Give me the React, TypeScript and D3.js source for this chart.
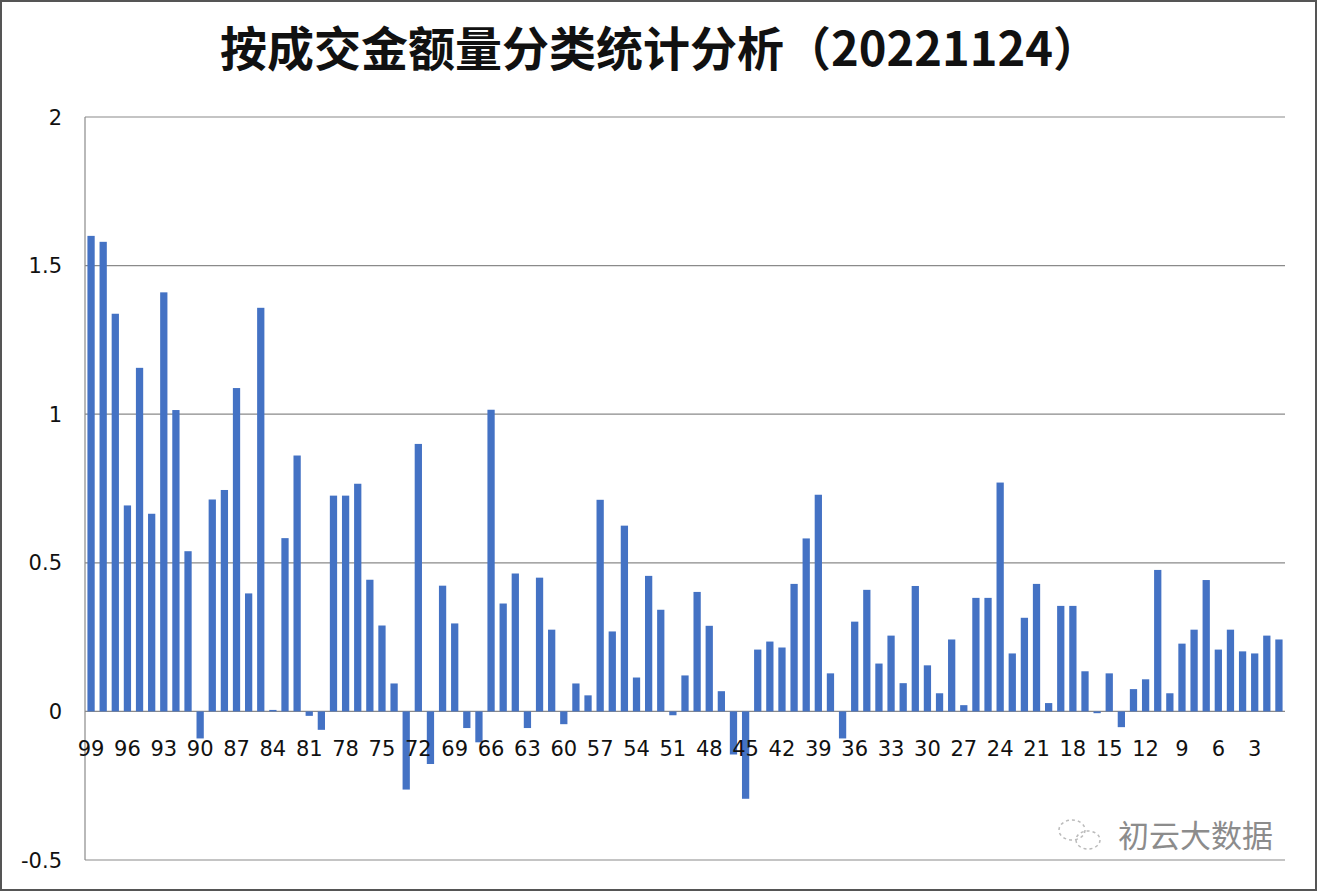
import React from "react";
import * as d3 from "d3";

const TITLE = "按成交金额量分类统计分析（20221124）";
const WATERMARK = "初云大数据";

// categories 99 → 1
const categories: number[] = d3.range(99, 0, -1);

const values: number[] = [
  1.60, 1.58, 1.338, 0.693, 1.156, 0.665, 1.41, 1.014, 0.539, -0.091, // 99-90
  0.713, 0.745, 1.088, 0.397, 1.358, 0.005, 0.583, 0.861, -0.015, -0.062, // 89-80
  0.726, 0.726, 0.766, 0.443, 0.289, 0.094, -0.263, 0.900, -0.177, 0.423, // 79-70
  0.296, -0.056, -0.104, 1.015, 0.363, 0.464, -0.056, 0.450, 0.275, -0.043, // 69-60
  0.094, 0.054, 0.712, 0.269, 0.625, 0.114, 0.456, 0.342, -0.013, 0.121, // 59-50
  0.402, 0.288, 0.068, -0.145, -0.294, 0.208, 0.235, 0.215, 0.429, 0.582, // 49-40
  0.729, 0.128, -0.091, 0.302, 0.409, 0.161, 0.255, 0.095, 0.422, 0.155, // 39-30
  0.061, 0.242, 0.021, 0.382, 0.382, 0.770, 0.195, 0.315, 0.429, 0.028, // 29-20
  0.355, 0.355, 0.135, -0.006, 0.128, -0.053, 0.075, 0.108, 0.476, 0.061, // 19-10
  0.228, 0.275, 0.442, 0.208, 0.275, 0.202, 0.195, 0.255, 0.242, // 9-1
];

const yTicks: number[] = [2, 1.5, 1, 0.5, 0, -0.5];
const xTickLabels: number[] = categories.filter((c) => c % 3 === 0);

const W = 1318;
const H = 892;
const PLOT = { left: 85, right: 1285, top: 117, bottom: 860 };

export default function App() {
  const x = d3
    .scaleBand<number>()
    .domain(categories)
    .range([PLOT.left, PLOT.right])
    .paddingInner(0.4)
    .paddingOuter(0.2);
  const y = d3.scaleLinear().domain([-0.5, 2]).range([PLOT.bottom, PLOT.top]);
  const axisFont = "'DejaVu Sans', Verdana, sans-serif";

  return (
    <svg
      width={W}
      height={H}
      style={{ position: "absolute", left: 0, top: 0, background: "#fff" }}
    >
      <rect x={1} y={1} width={W - 3} height={H - 3} fill="#fff" stroke="#555" strokeWidth={2} />
      <text
        x={660}
        y={66}
        textAnchor="middle"
        fontFamily="'Noto Sans CJK SC', sans-serif"
        fontWeight="bold"
        fontSize={47}
        fill="#111"
      >
        {TITLE}
      </text>
      {yTicks.map((t) => (
        <g key={t}>
          <line
            x1={PLOT.left}
            x2={PLOT.right}
            y1={y(t)}
            y2={y(t)}
            stroke="#8a8a8a"
            strokeWidth={1.2}
          />
          <text
            x={62}
            y={y(t)}
            dy="0.36em"
            textAnchor="end"
            fontFamily={axisFont}
            fontSize={21}
            fill="#111"
          >
            {t}
          </text>
        </g>
      ))}
      <line x1={PLOT.left} x2={PLOT.left} y1={PLOT.top} y2={PLOT.bottom} stroke="#8a8a8a" strokeWidth={1.2} />
      {categories.map((c, i) => {
        const v = values[i];
        return (
          <rect
            key={c}
            x={x(c)!}
            width={x.bandwidth()}
            y={Math.min(y(v), y(0))}
            height={Math.abs(y(v) - y(0))}
            fill="#4472C4"
          />
        );
      })}
      {xTickLabels.map((c) => (
        <text
          key={c}
          x={x(c)! + x.bandwidth() / 2}
          y={756}
          textAnchor="middle"
          fontFamily={axisFont}
          fontSize={21}
          fill="#111"
        >
          {c}
        </text>
      ))}
      <g stroke="#bbb" fill="none" strokeWidth={1.5}>
        <ellipse cx={1072} cy={830} rx={13} ry={10} strokeDasharray="3 3" />
        <ellipse cx={1088} cy={840} rx={12} ry={9} strokeDasharray="3 3" />
      </g>
      <text
        x={1118}
        y={847}
        fontFamily="'Noto Sans CJK SC', sans-serif"
        fontSize={31}
        fill="#8c8c8c"
      >
        {WATERMARK}
      </text>
    </svg>
  );
}
